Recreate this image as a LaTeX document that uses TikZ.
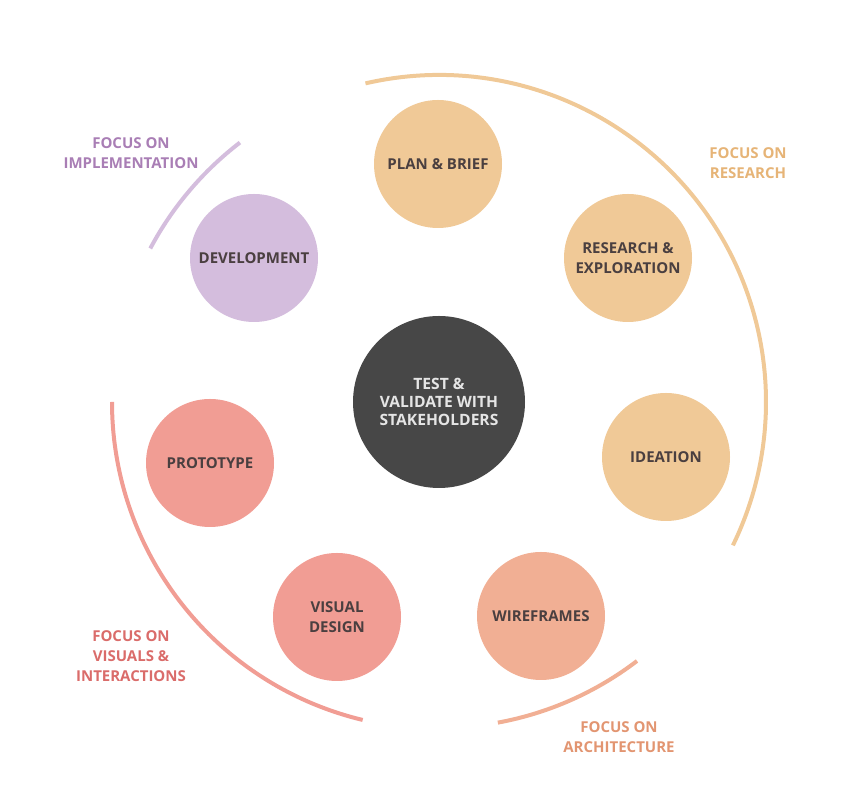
\documentclass[tikz,border=0pt]{standalone}
\usepackage{fontspec}
\setmainfont{Open Sans}[BoldFont={Open Sans Bold}]
\usepackage{tikz}

\definecolor{peach}{HTML}{F0C997}
\definecolor{peachtxt}{HTML}{E6B477}
\definecolor{lilac}{HTML}{D4BDDD}
\definecolor{lilactxt}{HTML}{A97EB5}
\definecolor{rose}{HTML}{F19D94}
\definecolor{rosetxt}{HTML}{DA6C6A}
\definecolor{salmon}{HTML}{F1AF94}
\definecolor{salmontxt}{HTML}{E29571}
\definecolor{hubgrey}{HTML}{474747}
\definecolor{inktxt}{HTML}{4A3F40}

\begin{document}
\begin{tikzpicture}[x=1pt, y=1pt,
    phase/.style={circle, minimum size=128pt, inner sep=0pt, align=center,
        text=inktxt, font=\fontsize{15}{20}\selectfont\bfseries},
    focus/.style={align=center, font=\fontsize{15}{20}\selectfont\bfseries},
    band/.style={line width=4pt}]
    \useasboundingbox (0,0) rectangle (860,808);

    \node[circle, fill=hubgrey, minimum size=172pt, inner sep=0pt, align=center,
        text=white!90!black, font=\fontsize{15.6}{18}\selectfont\bfseries]
        (hub) at (439,406) {TEST \&\\VALIDATE WITH\\STAKEHOLDERS};

    \node[phase, fill=peach] (plan) at (438,644) {PLAN \& BRIEF};
    \node[phase, fill=peach] (research) at (628,550) {RESEARCH \&\\EXPLORATION};
    \node[phase, fill=peach] (ideation) at (666,351) {IDEATION};
    \node[phase, fill=salmon] (wire) at (541,192) {WIREFRAMES};
    \node[phase, fill=rose] (visual) at (337,191) {VISUAL\\DESIGN};
    \node[phase, fill=rose] (proto) at (210,345) {PROTOTYPE};
    \node[phase, fill=lilac] (dev) at (254,550) {DEVELOPMENT};

    % outer bands
    \draw[band, peach] ([shift={(103:327)}]hub.center) arc[start angle=103, end angle=-26, radius=327];
    \draw[band, lilac] ([shift={(152:327)}]hub.center) arc[start angle=152, end angle=127.5, radius=327];
    \draw[band, rose] ([shift={(180:327)}]hub.center) arc[start angle=180, end angle=256.5, radius=327];
    \draw[band, salmon] ([shift={(280.4:326)}]hub.center) arc[start angle=280.4, end angle=307.4, radius=326];

    \node[focus, text=lilactxt] (fimpl) at (131,655) {FOCUS ON\\IMPLEMENTATION};
    \node[focus, text=peachtxt] (fres) at (748,645) {FOCUS ON\\RESEARCH};
    \node[focus, text=rosetxt] (fvis) at (131,152) {FOCUS ON\\VISUALS \&\\INTERACTIONS};
    \node[focus, text=salmontxt] (farch) at (619,71) {FOCUS ON\\ARCHITECTURE};
\end{tikzpicture}
\end{document}
